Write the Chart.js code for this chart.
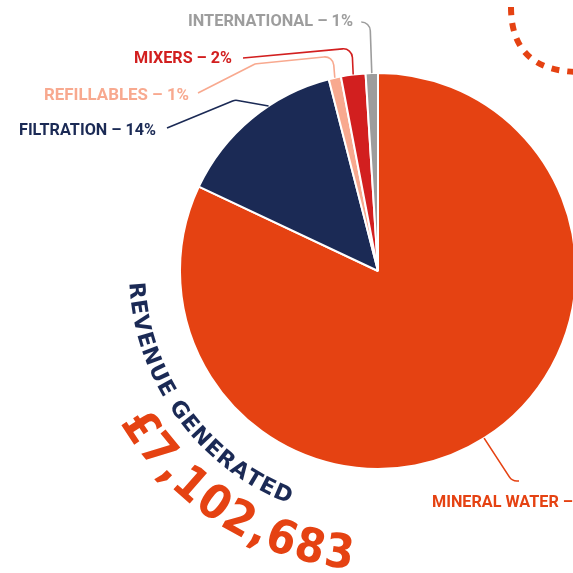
<!DOCTYPE html>
<html>
<head>
<meta charset="utf-8">
<script src="https://cdn.jsdelivr.net/npm/chart.js@4"></script>
<style>
  html, body { margin: 0; padding: 0; background: #fff; overflow: hidden; }
  #wrap { position: absolute; left: 0; top: 0; width: 600px; height: 573px; }
</style>
</head>
<body>
<div id="wrap"><canvas id="pie" width="600" height="573"></canvas></div>
<script>
// chart data
const categories = ['MINERAL WATER', 'FILTRATION', 'REFILLABLES', 'MIXERS', 'INTERNATIONAL'];
const shares = [82, 14, 1, 2, 1];
const headline = 'REVENUE GENERATED';
const totalRevenue = '£7,102,683';

// styling
const colours = ['#e54212', '#1b2a55', '#f8a98f', '#d21f1f', '#9d9d9d'];
const NAVY = '#1b2a55';
const ORANGE = '#e54212';

// where each label sits and how its leader line runs (t = position along the slice)
const labelLayout = [
  { x: 432, cy: 501, w: 141, part: 'MINERAL WATER –', t: 0.5, path: [[512, 481], [519, 481]], fromArc: true },
  { x: 19,  cy: 128.5, w: 137, t: 0.62, path: [[167, 128], [235, 100]] },
  { x: 44,  cy: 93.5, w: 145, t: 0.5, path: [[198, 93], [255, 64], [333, 56]] },
  { x: 134, cy: 56.5, w: 98,  t: 0.5, path: [[243, 58], [352, 48]] },
  { x: 188, cy: 19.5, w: 165, t: 0.5, path: [[362, 22], [370, 22]] }
];

function roundedPath(ctx, pts, r) {
  ctx.beginPath();
  ctx.moveTo(pts[0][0], pts[0][1]);
  for (let i = 1; i < pts.length - 1; i++) {
    ctx.arcTo(pts[i][0], pts[i][1], pts[i + 1][0], pts[i + 1][1], r);
  }
  const last = pts[pts.length - 1];
  ctx.lineTo(last[0], last[1]);
  ctx.stroke();
}

// text bent round a circle, tops facing the centre, reading from a0 to a1 (degrees)
function arcText(ctx, text, cx, cy, r, a0, a1, font, colour) {
  ctx.save();
  ctx.font = font;
  ctx.fillStyle = colour;
  ctx.textAlign = 'center';
  ctx.textBaseline = 'alphabetic';
  const chars = [...text];
  const widths = chars.map(ch => ctx.measureText(ch).width);
  const total = widths.reduce((s, w) => s + w, 0);
  const span = (a0 - a1) * Math.PI / 180 * r;
  const gap = (span - total) / (chars.length - 1);
  let s = 0;
  chars.forEach((ch, i) => {
    const th = a0 * Math.PI / 180 - (s + widths[i] / 2) / r;
    ctx.save();
    ctx.translate(cx + r * Math.cos(th), cy + r * Math.sin(th));
    ctx.rotate(th - Math.PI / 2);
    ctx.fillText(ch, 0, 0);
    ctx.restore();
    s += widths[i] + gap;
  });
  ctx.restore();
}

const decorations = {
  id: 'decorations',
  afterDraw(chart) {
    const ctx = chart.ctx;
    const arcs = chart.getDatasetMeta(0).data;
    const cx = arcs[0].x, cy = arcs[0].y;

    // leader lines + labels
    arcs.forEach((arc, i) => {
      const lay = labelLayout[i];
      const p = arc.getProps(['startAngle', 'endAngle', 'outerRadius'], true);
      const a = p.startAngle + (p.endAngle - p.startAngle) * lay.t;
      const anchor = [cx + p.outerRadius * Math.cos(a), cy + p.outerRadius * Math.sin(a)];
      const pts = lay.fromArc ? [anchor, ...lay.path] : [...lay.path, anchor];

      ctx.save();
      ctx.strokeStyle = colours[i];
      ctx.lineWidth = 1.6;
      roundedPath(ctx, pts, 9);

      ctx.fillStyle = colours[i];
      ctx.font = 'bold 17px Roboto';
      ctx.textBaseline = 'alphabetic';
      const txt = categories[i] + ' – ' + shares[i] + '%';
      const ref = lay.part || txt;
      const k = lay.w / ctx.measureText(ref).width;
      ctx.translate(lay.x, lay.cy + 6);
      ctx.scale(k, 1);
      ctx.fillText(txt, 0, 0);
      ctx.restore();
    });

    // curved headline and total
    arcText(ctx, headline, cx, cy, 249, 177.3, 111, 'bold 22px "DejaVu Sans"', NAVY);
    arcText(ctx, totalRevenue, cx, cy, 299, 149.5, 95, 'bold 47px "DejaVu Sans Condensed"', ORANGE);

    // dashed swoosh, top right
    ctx.save();
    ctx.strokeStyle = ORANGE;
    ctx.lineWidth = 6;
    ctx.setLineDash([8, 8]);
    ctx.beginPath();
    ctx.moveTo(511, 7);
    ctx.quadraticCurveTo(511, 72, 580, 72);
    ctx.stroke();
    ctx.restore();
  }
};

new Chart(document.getElementById('pie'), {
  type: 'pie',
  data: {
    labels: categories,
    datasets: [{
      data: shares,
      backgroundColor: colours,
      borderColor: '#ffffff',
      borderWidth: 2
    }]
  },
  options: {
    responsive: false,
    animation: false,
    layout: { padding: { left: 179, top: 72, right: 23, bottom: 103 } },
    plugins: {
      legend: { display: false },
      tooltip: { enabled: false }
    }
  },
  plugins: [decorations]
});
</script>
</body>
</html>
